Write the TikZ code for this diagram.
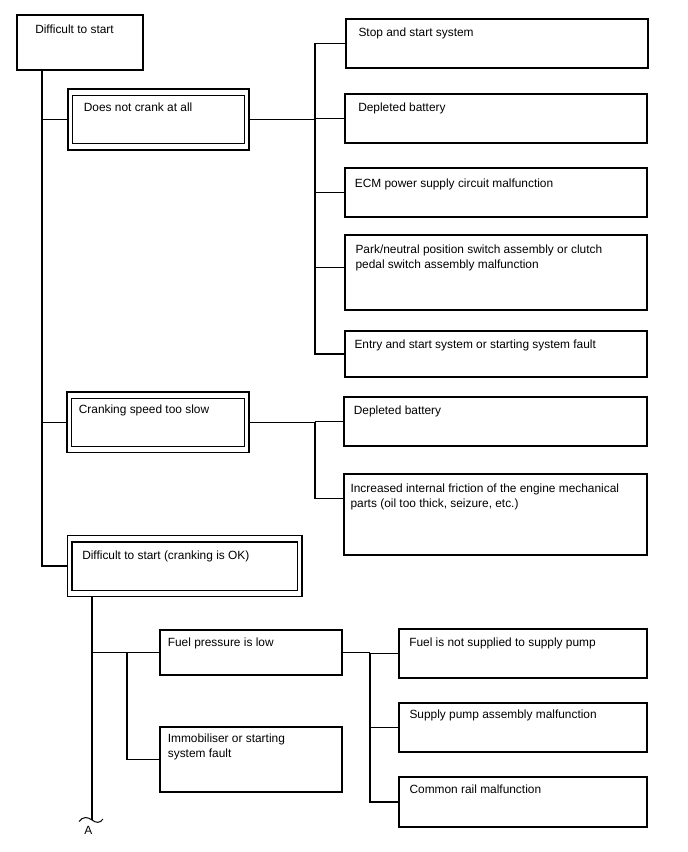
\documentclass[tikz,border=0pt]{standalone}
\usepackage{fontspec}
\setmainfont{Liberation Sans}
\usetikzlibrary{calc}
\begin{document}
\begin{tikzpicture}[x=1pt,y=-1pt,line width=1.1pt,
  box/.style={draw,inner sep=0pt,outer sep=0pt},
  txt/.style={inner sep=0pt,anchor=base west,align=left,font=\fontsize{11.9}{14.4}\selectfont}]
\useasboundingbox[fill=white] (0,0) rectangle (688,852);

% boxes
\node[box,minimum width=126pt,minimum height=55pt] (top) at (80,42.5) {};
\node[box,minimum width=181pt,minimum height=61pt] (d1o) at (158.5,119.5) {};
\node[box,minimum width=172pt,minimum height=48pt] (d1i) at (158.5,119.5) {};
\node[box,minimum width=182pt,minimum height=60.5pt] (d2o) at (158,422.25) {};
\node[box,minimum width=173pt,minimum height=48pt] (d2i) at (158,422.25) {};
\node[box,minimum width=234.5pt,minimum height=61pt] (d3o) at (184.75,566) {};
\node[box,minimum width=225.5pt,minimum height=48.5pt] (d3i) at (184.75,566.25) {};
\node[box,minimum width=302pt,minimum height=49pt] (r1) at (497,43.5) {};
\node[box,minimum width=302pt,minimum height=49pt] (r2) at (496,118.5) {};
\node[box,minimum width=302pt,minimum height=49pt] (r3) at (496,192.5) {};
\node[box,minimum width=302pt,minimum height=75pt] (r4) at (496,272.5) {};
\node[box,minimum width=302pt,minimum height=46pt] (r5) at (496,354) {};
\node[box,minimum width=303pt,minimum height=49pt] (r6) at (495.5,421.5) {};
\node[box,minimum width=303pt,minimum height=81pt] (r7) at (495.5,514.5) {};
\node[box,minimum width=182pt,minimum height=45pt] (f1) at (251,652.5) {};
\node[box,minimum width=182pt,minimum height=65pt] (f2) at (251,759.5) {};
\node[box,minimum width=248pt,minimum height=49pt] (g1) at (523,653.5) {};
\node[box,minimum width=248pt,minimum height=49pt] (g2) at (523,727.5) {};
\node[box,minimum width=248pt,minimum height=50pt] (g3) at (523,802) {};

% texts (multi-line nodes: base = last line)
\node[txt] (ttop) at (34.7,33.3) {Difficult to start};
\node[txt] (td1) at (83.3,111.5) {Does not crank at all};
\node[txt] (td2) at (78.3,413.7) {Cranking speed too slow};
\node[txt] (td3) at (81.7,559.3) {Difficult to start (cranking is OK)};
\node[txt] (tr1) at (358,36) {Stop and start system};
\node[txt] (tr2) at (357.7,111.3) {Depleted battery};
\node[txt] (tr3) at (354.3,187.5) {ECM power supply circuit malfunction};
\node[txt] (tr4) at (355,268.1) {Park/neutral position switch assembly or clutch\\pedal switch assembly malfunction};
\node[txt] (tr5) at (354,348.7) {Entry and start system or starting system fault};
\node[txt] (tr6) at (353.3,414.7) {Depleted battery};
\node[txt] (tr7) at (350,507.1) {Increased internal friction of the engine mechanical\\parts (oil too thick, seizure, etc.)};
\node[txt] (tf1) at (167.3,646.3) {Fuel pressure is low};
\node[txt] (tf2) at (167.3,757.1) {Immobiliser or starting\\system fault};
\node[txt] (tg1) at (408.7,646.3) {Fuel is not supplied to supply pump};
\node[txt] (tg2) at (409,718.7) {Supply pump assembly malfunction};
\node[txt] (tg3) at (409,793.7) {Common rail malfunction};

% connector columns
\coordinate (trk) at (42,0);
\coordinate (v1) at (315,0);
\coordinate (trk2) at (92,0);
\coordinate (v3) at (127,0);
\coordinate (v4) at (370,0);
\coordinate (aend) at (92,820);
\coordinate (r4c) at ($(r4.north west)!0.43!(r4.south west)$);
\coordinate (r7c) at ($(r7.north west)!0.30!(r7.south west)$);

% main trunk
\draw (trk |- top.south) |- (d3o.west);
\draw (trk |- d1o.west) -- (d1o.west);
\draw (trk |- d2o.west) -- (d2o.west);

% does not crank
\draw (d1o.east) -- (v1 |- d1o.east);
\draw (r1.west) -| (v1 |- r5.west) -- (r5.west);
\draw (v1 |- r2.west) -- (r2.west);
\draw (v1 |- r3.west) -- (r3.west);
\draw (v1 |- r4c) -- (r4c);

% cranking too slow
\draw (d2o.east) -- (v1 |- d2o.east);
\draw (v1 |- r6.west) -- (r6.west);
\draw (v1 |- r6.west) |- (r7c);

% cranking OK
\draw (trk2 |- d3o.south) -- (aend);
\draw (trk2 |- f1.west) -- (f1.west);
\draw (v3 |- f1.west) |- (f2.west);
\draw (f1.east) -- (v4 |- f1.east);
\draw (v4 |- f1.east) |- (g3.west);
\draw (v4 |- g1.west) -- (g1.west);
\draw (v4 |- g2.west) -- (g2.west);

% break mark and label
\draw[line width=1pt] ($(aend)+(-13,1.5)$) .. controls ($(aend)+(-9,-4)$) and ($(aend)+(-4,-3)$) .. (aend)
  .. controls ($(aend)+(4,3)$) and ($(aend)+(8,3.5)$) .. ($(aend)+(11,-1)$);
\node[txt,anchor=base] (lblA) at (88.3,834.7) {A};
\end{tikzpicture}
\end{document}
